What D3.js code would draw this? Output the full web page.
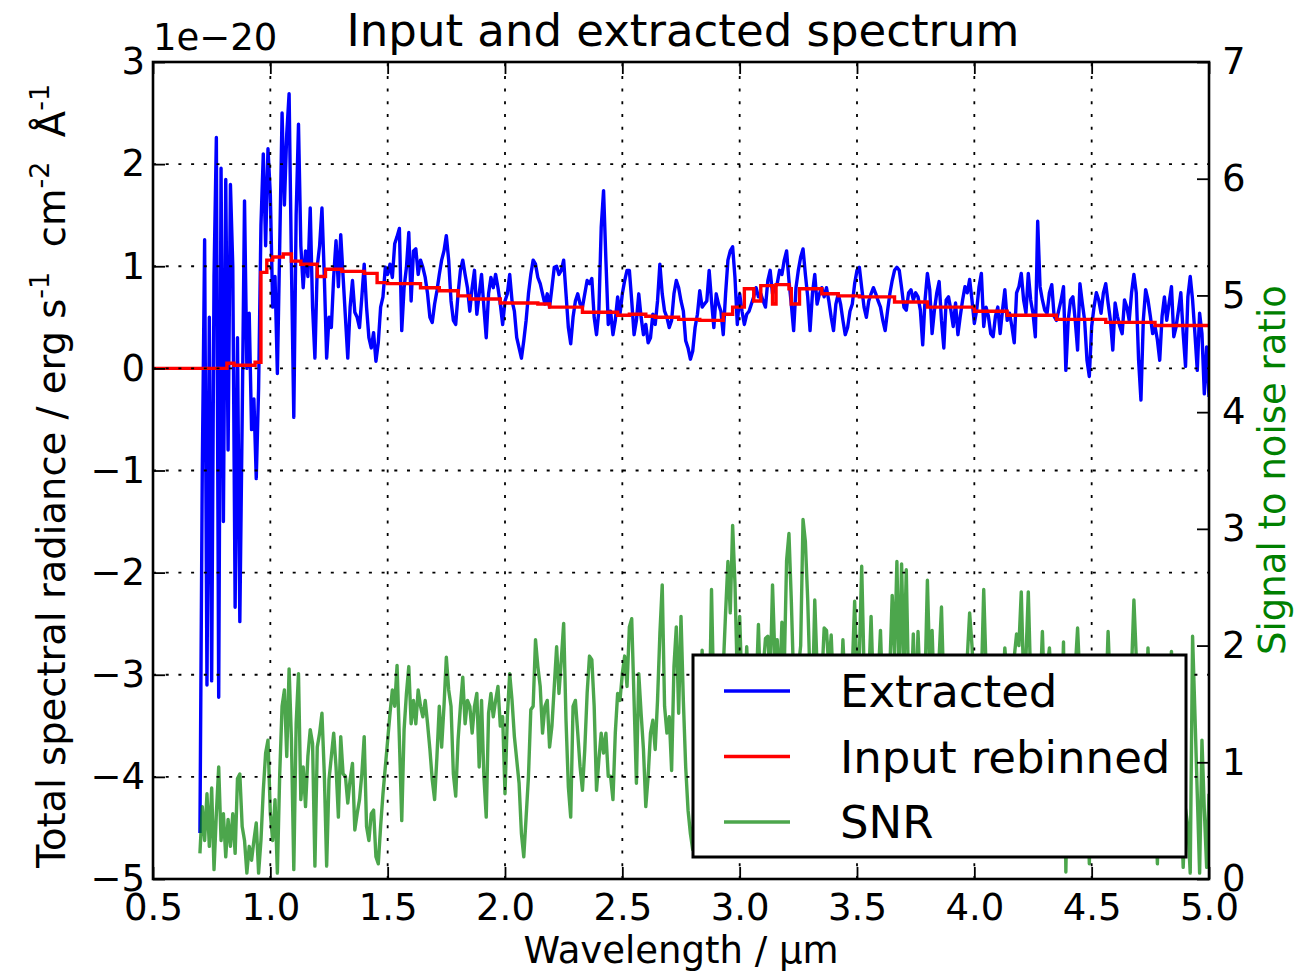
<!DOCTYPE html>
<html>
<head>
<meta charset="utf-8">
<script src="https://cdn.jsdelivr.net/npm/d3@7"></script>
<style>
  body { margin: 0; background: #fff; }
  svg { display: block; font-family: "DejaVu Sans", sans-serif; }
</style>
</head>
<body>
<svg id="chart" width="1313" height="974"></svg>
<script>
// Wavelength sampling of the extracted spectrum and SNR (micron)
const wlStart = 0.70;
const wlStep = 0.01;

// Extracted spectrum, units of 1e-20 erg s-1 cm-2 A-1
const extracted = [
  -4.55,-1.0,1.26,-3.1,0.5,-3.06,0.9,2.26,-3.22,1.96,
  -1.5,1.85,-0.8,1.8,1.0,-2.34,0.3,-2.48,-0.5,1.64,
  0.0,0.54,-0.6,-0.3,-1.08,-0.2,1.4,2.1,1.2,2.15,
  1.7,0.6,0.9,-0.05,1.2,2.5,1.6,2.3,2.69,1.0,
  -0.48,1.5,2.39,1.2,0.79,1.15,0.9,1.57,0.6,0.1,
  1.0,1.2,1.57,0.9,0.1,0.5,0.4,0.9,1.25,0.8,
  1.31,0.9,0.5,0.1,0.6,0.86,0.55,0.5,0.4,0.7,
  1.02,0.6,0.3,0.2,0.35,0.07,0.25,0.6,0.7,0.99,
  0.92,1.02,0.89,1.22,1.29,1.37,0.37,0.79,0.99,1.33,
  0.66,1.15,1.17,0.92,1.06,0.99,0.89,0.73,0.5,0.45,
  0.63,0.76,0.92,1.06,1.15,1.3,1.06,0.66,0.47,0.43,
  0.73,0.96,1.06,0.92,0.79,0.56,0.79,0.96,0.53,0.73,
  0.92,0.6,0.3,0.73,0.89,0.79,0.92,0.79,0.63,0.43,
  0.66,0.73,0.92,0.66,0.56,0.3,0.2,0.1,0.27,0.47,
  0.73,0.92,1.06,1.02,0.89,0.83,0.73,0.63,0.73,0.6,
  0.79,0.99,1.0,0.92,0.96,1.06,0.73,0.4,0.24,0.5,
  0.66,0.73,0.63,0.6,0.73,0.86,0.83,0.88,0.5,0.33,
  0.56,1.38,1.74,1.06,0.43,0.56,0.33,0.47,0.7,0.53,
  0.73,0.86,0.96,0.96,0.66,0.33,0.47,0.73,0.5,0.33,
  0.43,0.25,0.3,0.53,0.43,0.66,1.02,0.73,0.56,0.5,
  0.4,0.47,0.73,0.86,0.79,0.66,0.56,0.27,0.2,0.09,
  0.17,0.4,0.53,0.76,0.6,0.63,0.66,0.96,0.66,0.4,
  0.73,0.63,0.56,0.33,0.73,1.06,1.15,1.19,0.89,0.43,
  0.73,0.56,0.43,0.53,0.56,0.63,0.7,0.79,0.7,0.73,
  0.66,0.6,0.86,0.96,0.73,0.79,0.83,0.96,0.92,1.06,
  1.15,0.86,0.63,0.37,0.79,0.96,1.09,1.17,0.92,0.7,
  0.37,0.73,0.92,0.63,0.73,0.79,0.7,0.79,0.66,0.5,
  0.37,0.63,0.73,0.63,0.47,0.33,0.4,0.56,0.63,0.83,
  0.96,0.99,0.79,0.6,0.5,0.66,0.73,0.79,0.73,0.66,
  0.6,0.47,0.37,0.56,0.73,0.86,0.96,0.99,0.96,0.79,
  0.6,0.57,0.74,0.77,0.67,0.74,0.7,0.57,0.23,0.67,
  0.93,0.77,0.34,0.57,0.74,0.85,0.47,0.2,0.67,0.7,
  0.57,0.41,0.64,0.33,0.51,0.67,0.8,0.74,0.87,0.67,
  0.44,0.57,0.8,0.93,0.41,0.6,0.51,0.34,0.31,0.51,
  0.6,0.34,0.57,0.77,0.47,0.54,0.41,0.25,0.74,0.8,
  0.93,0.67,0.54,0.93,0.67,0.54,0.31,1.44,0.8,0.67,
  0.57,0.54,0.74,0.82,0.51,0.47,0.57,0.67,0.8,-0.02,
  0.47,0.67,0.7,0.47,0.18,0.83,0.64,0.47,0.08,-0.08,
  0.41,0.6,0.74,0.67,0.54,0.74,0.83,0.64,0.47,0.18,
  0.64,0.51,0.41,0.34,0.67,0.6,0.47,0.74,0.92,0.74,
  0.08,-0.31,0.47,0.77,0.67,0.51,0.34,0.41,0.28,0.08,
  0.51,0.7,0.47,0.64,0.8,0.31,0.41,0.57,0.74,0.34,
  0.02,0.7,0.9,0.67,0.34,-0.02,0.54,0.34,-0.25,0.21,
  -0.28
];

// Signal to noise ratio on the same wavelength sampling
const snr = [
  0.22,0.62,0.33,0.73,0.28,0.78,0.08,0.56,0.96,0.33,
  0.56,0.19,0.51,0.28,0.56,0.22,0.86,0.9,0.45,0.33,
  0.05,0.28,0.16,0.33,0.48,0.05,0.33,0.76,1.08,1.19,
  0.56,0.33,0.68,0.05,0.9,1.48,1.62,1.05,1.8,1.19,
  0.08,1.33,1.76,0.68,0.96,0.62,1.05,1.28,1.16,0.11,
  1.13,1.25,1.42,0.9,0.11,0.85,1.05,1.25,0.96,0.53,
  1.22,0.9,0.88,0.65,0.85,0.99,0.42,0.56,0.68,0.9,
  1.22,0.45,0.33,0.56,0.59,0.19,0.13,0.45,0.73,0.96,
  1.19,1.42,1.62,1.48,1.83,1.19,0.5,1.28,1.59,1.82,
  1.33,1.53,1.33,1.62,1.48,1.39,1.53,1.33,1.11,0.85,
  0.68,1.05,1.48,1.13,1.48,1.9,1.62,1.48,0.9,0.71,
  1.19,1.48,1.73,1.33,1.53,1.48,1.25,1.48,1.59,0.96,
  1.53,0.88,0.53,1.42,1.59,1.39,1.53,1.65,1.31,1.39,
  0.73,1.39,1.76,1.53,1.22,1.02,0.82,0.39,0.19,0.53,
  0.88,1.45,1.48,2.05,1.82,1.65,1.25,1.48,1.53,1.13,
  1.31,1.65,1.99,1.59,1.88,2.19,1.36,0.79,0.53,1.48,
  1.53,1.25,0.96,0.76,1.11,1.59,1.91,1.88,1.48,0.76,
  1.02,1.25,1.08,1.25,0.88,0.88,0.68,1.25,1.59,1.53,
  1.76,1.91,1.65,2.16,2.23,1.53,0.82,1.76,1.42,1.11,
  0.62,0.88,1.25,1.36,1.11,1.53,2.1,2.52,1.48,1.25,
  1.39,0.93,1.82,2.16,1.42,2.25,1.53,0.96,0.59,0.39,
  0.25,1.2,1.5,1.0,1.96,1.4,1.6,1.3,2.48,1.5,
  1.7,1.2,1.6,1.8,2.28,2.72,2.28,3.03,2.53,1.7,
  2.25,1.6,1.4,1.99,1.5,1.3,1.7,1.6,2.18,1.5,
  1.8,2.06,2.08,1.7,2.52,1.9,2.05,1.6,2.2,1.8,
  2.73,2.96,2.39,1.7,1.5,1.8,2.0,3.08,2.89,2.39,
  1.7,1.5,2.39,1.8,1.6,1.7,2.15,2.13,1.8,2.09,
  1.6,1.4,1.7,1.5,2.05,1.6,1.3,1.5,1.8,2.38,
  1.7,1.9,2.68,1.8,1.5,1.7,2.25,1.6,1.4,1.7,
  2.13,1.5,1.3,1.6,1.8,2.43,1.9,2.72,1.7,2.7,
  1.8,2.65,1.6,1.5,2.1,1.4,2.12,1.6,1.5,1.7,
  2.56,1.8,2.13,1.5,1.7,1.9,2.33,1.6,1.4,1.5,
  1.7,1.3,1.6,1.5,1.8,1.4,1.7,1.9,2.28,2.0,
  1.6,1.8,1.9,1.7,2.48,1.8,1.5,1.6,1.4,1.7,
  1.5,1.8,1.6,1.98,1.7,1.5,1.8,1.9,2.1,2.0,
  2.46,1.7,1.9,2.46,1.7,1.5,1.6,1.8,1.6,2.12,
  1.5,1.8,1.98,1.6,1.4,1.7,1.5,1.3,2.03,0.06,
  1.2,1.6,1.5,1.8,2.15,1.7,1.4,1.6,1.0,0.13,
  1.1,1.5,1.3,1.6,1.4,1.7,1.5,2.12,1.6,1.4,
  1.2,1.5,1.3,1.6,1.4,1.7,1.5,1.8,2.39,1.9,
  1.5,1.3,1.6,1.4,1.98,1.5,1.2,0.9,0.13,0.8,
  1.3,1.5,1.2,1.6,1.95,1.5,1.2,1.0,0.7,0.1,
  0.6,0.45,0.05,2.08,1.42,0.73,0.05,1.19,0.59,0.1,
  0.73
];

// Input spectrum rebinned onto the instrument bins (step edges)
const rebinWl = [0.50,0.815,0.845,0.935,0.96,0.985,1.01,1.055,1.09,1.13,1.20,1.235,1.305,1.40,1.455,1.50,1.64,1.72,1.80,1.85,1.98,2.14,2.19,2.33,2.48,2.53,2.60,2.64,2.74,2.83,2.93,2.97,3.02,3.06,3.09,3.14,3.155,3.21,3.22,3.255,3.35,3.42,3.51,3.66,3.80,4.00,4.14,4.35,4.56,4.77,5.00];
const rebinFlux = [0.0,0.05,0.03,0.06,0.94,1.06,1.09,1.12,1.05,1.02,0.90,0.97,0.95,0.93,0.84,0.83,0.79,0.76,0.71,0.68,0.64,0.63,0.60,0.55,0.52,0.53,0.51,0.50,0.48,0.47,0.53,0.60,0.78,0.66,0.81,0.63,0.82,0.78,0.63,0.78,0.73,0.71,0.70,0.65,0.60,0.56,0.52,0.48,0.45,0.42,0.42];

const xTicks = [0.5,1.0,1.5,2.0,2.5,3.0,3.5,4.0,4.5,5.0];
const fluxTicks = [-5,-4,-3,-2,-1,0,1,2,3];
const snrTicks = [0,1,2,3,4,5,6,7];
const legendLabels = ["Extracted","Input rebinned","SNR"];

const colors = { extracted: "#0000ff", rebinned: "#ff0000", snr: "#008000" };

const wavelength = extracted.map((_, i) => +(wlStart + i * wlStep).toFixed(2));

const L = 153, R = 1209, T = 62, B = 879;
const lineWidth = 3.4;
const svg = d3.select("#chart");

const x = d3.scaleLinear().domain([0.5, 5.0]).range([L, R]);
const yFlux = d3.scaleLinear().domain([-5, 3]).range([B, T]);
const ySnr = d3.scaleLinear().domain([0, 7]).range([B, T]);

svg.append("defs").append("clipPath").attr("id", "plotClip")
  .append("rect").attr("x", L).attr("y", T).attr("width", R - L).attr("height", B - T);

const plot = svg.append("g").attr("clip-path", "url(#plotClip)");

// Extracted spectrum
plot.append("path")
  .datum(wavelength.map((w, i) => [w, extracted[i]]))
  .attr("fill", "none")
  .attr("stroke", colors.extracted)
  .attr("stroke-width", lineWidth)
  .attr("stroke-linejoin", "round")
  .attr("d", d3.line().x(d => x(d[0])).y(d => yFlux(d[1])));

// Rebinned input
plot.append("path")
  .datum(rebinWl.map((w, i) => [w, rebinFlux[i]]))
  .attr("fill", "none")
  .attr("stroke", colors.rebinned)
  .attr("stroke-width", lineWidth)
  .attr("d", d3.line().curve(d3.curveStepAfter).x(d => x(d[0])).y(d => yFlux(d[1])));

// Dotted grid
const grid = svg.append("g").attr("stroke", "#000").attr("stroke-width", 1.8)
  .attr("stroke-dasharray", "3,9.7");
grid.selectAll("line.gx").data(xTicks).join("line").attr("class", "gx")
  .attr("x1", d => x(d)).attr("x2", d => x(d)).attr("y1", B).attr("y2", T);
grid.selectAll("line.gy").data(fluxTicks).join("line").attr("class", "gy")
  .attr("x1", L).attr("x2", R).attr("y1", d => yFlux(d)).attr("y2", d => yFlux(d));

// SNR on the secondary axis
plot.append("path")
  .datum(wavelength.map((w, i) => [w, snr[i]]))
  .attr("fill", "none")
  .attr("stroke", colors.snr)
  .attr("stroke-opacity", 0.7)
  .attr("stroke-width", lineWidth)
  .attr("stroke-linejoin", "round")
  .attr("d", d3.line().x(d => x(d[0])).y(d => ySnr(d[1])));

// Axes (ticks point inward)
const tickFont = 37;
function styleAxis(g) {
  g.select(".domain").remove();
  g.selectAll(".tick line").attr("stroke", "#000").attr("stroke-width", 1.8);
  g.selectAll(".tick text").attr("font-size", tickFont).attr("fill", "#000")
    .attr("font-family", "DejaVu Sans, sans-serif");
}
svg.append("g").attr("transform", `translate(0,${B})`)
  .call(d3.axisBottom(x).tickValues(xTicks).tickFormat(d3.format(".1f")).tickSize(-12).tickPadding(15))
  .call(styleAxis);
svg.append("g").attr("transform", `translate(0,${T})`)
  .call(d3.axisTop(x).tickValues(xTicks).tickFormat("").tickSize(-12))
  .call(styleAxis);
svg.append("g").attr("transform", `translate(${L},0)`)
  .call(d3.axisLeft(yFlux).tickValues(fluxTicks).tickFormat(d3.format("d")).tickSize(-12).tickPadding(8))
  .call(styleAxis);
svg.append("g").attr("transform", `translate(${R},0)`)
  .call(d3.axisRight(ySnr).tickValues(snrTicks).tickFormat(d3.format("d")).tickSize(-12).tickPadding(13))
  .call(styleAxis);

// Legend
const legend = svg.append("g");
legend.append("rect").attr("x", 693).attr("y", 655).attr("width", 493).attr("height", 202)
  .attr("fill", "#fff").attr("stroke", "#000").attr("stroke-width", 3);
const legendColors = [colors.extracted, colors.rebinned, colors.snr];
const legendOpacity = [1, 1, 0.7];
legendLabels.forEach((lab, i) => {
  const yy = 691 + i * 65.5;
  legend.append("line").attr("x1", 724).attr("x2", 790).attr("y1", yy).attr("y2", yy)
    .attr("stroke", legendColors[i]).attr("stroke-opacity", legendOpacity[i]).attr("stroke-width", lineWidth);
  legend.append("text").attr("x", 840).attr("y", yy + 16).attr("font-size", 45).text(lab);
});

// Frame
svg.append("rect").attr("x", L).attr("y", T).attr("width", R - L).attr("height", B - T)
  .attr("fill", "none").attr("stroke", "#000").attr("stroke-width", 2.6);

// Texts
svg.append("text").attr("x", 683).attr("y", 46).attr("text-anchor", "middle")
  .attr("font-size", 45).text("Input and extracted spectrum");
svg.append("text").attr("x", 153).attr("y", 50).attr("font-size", tickFont).text("1e\u221220");
svg.append("text").attr("x", 681).attr("y", 963).attr("text-anchor", "middle")
  .attr("font-size", 37).text("Wavelength / \u03bcm");

const yl = svg.append("text").attr("transform", "translate(65,476) rotate(-90)")
  .attr("text-anchor", "middle").attr("font-size", 38.5);
yl.append("tspan").text("Total spectral radiance / erg s");
yl.append("tspan").attr("dy", -16).attr("font-size", 27).text("-1");
yl.append("tspan").attr("dy", 16).text("\u00a0 cm");
yl.append("tspan").attr("dy", -16).attr("font-size", 27).text("-2");
yl.append("tspan").attr("dy", 16).text("\u00a0 \u00c5");
yl.append("tspan").attr("dy", -16).attr("font-size", 27).text("-1");

svg.append("text").attr("transform", "translate(1285,470) rotate(-90)")
  .attr("text-anchor", "middle").attr("font-size", 37).attr("fill", colors.snr)
  .text("Signal to noise ratio");
</script>
</body>
</html>
